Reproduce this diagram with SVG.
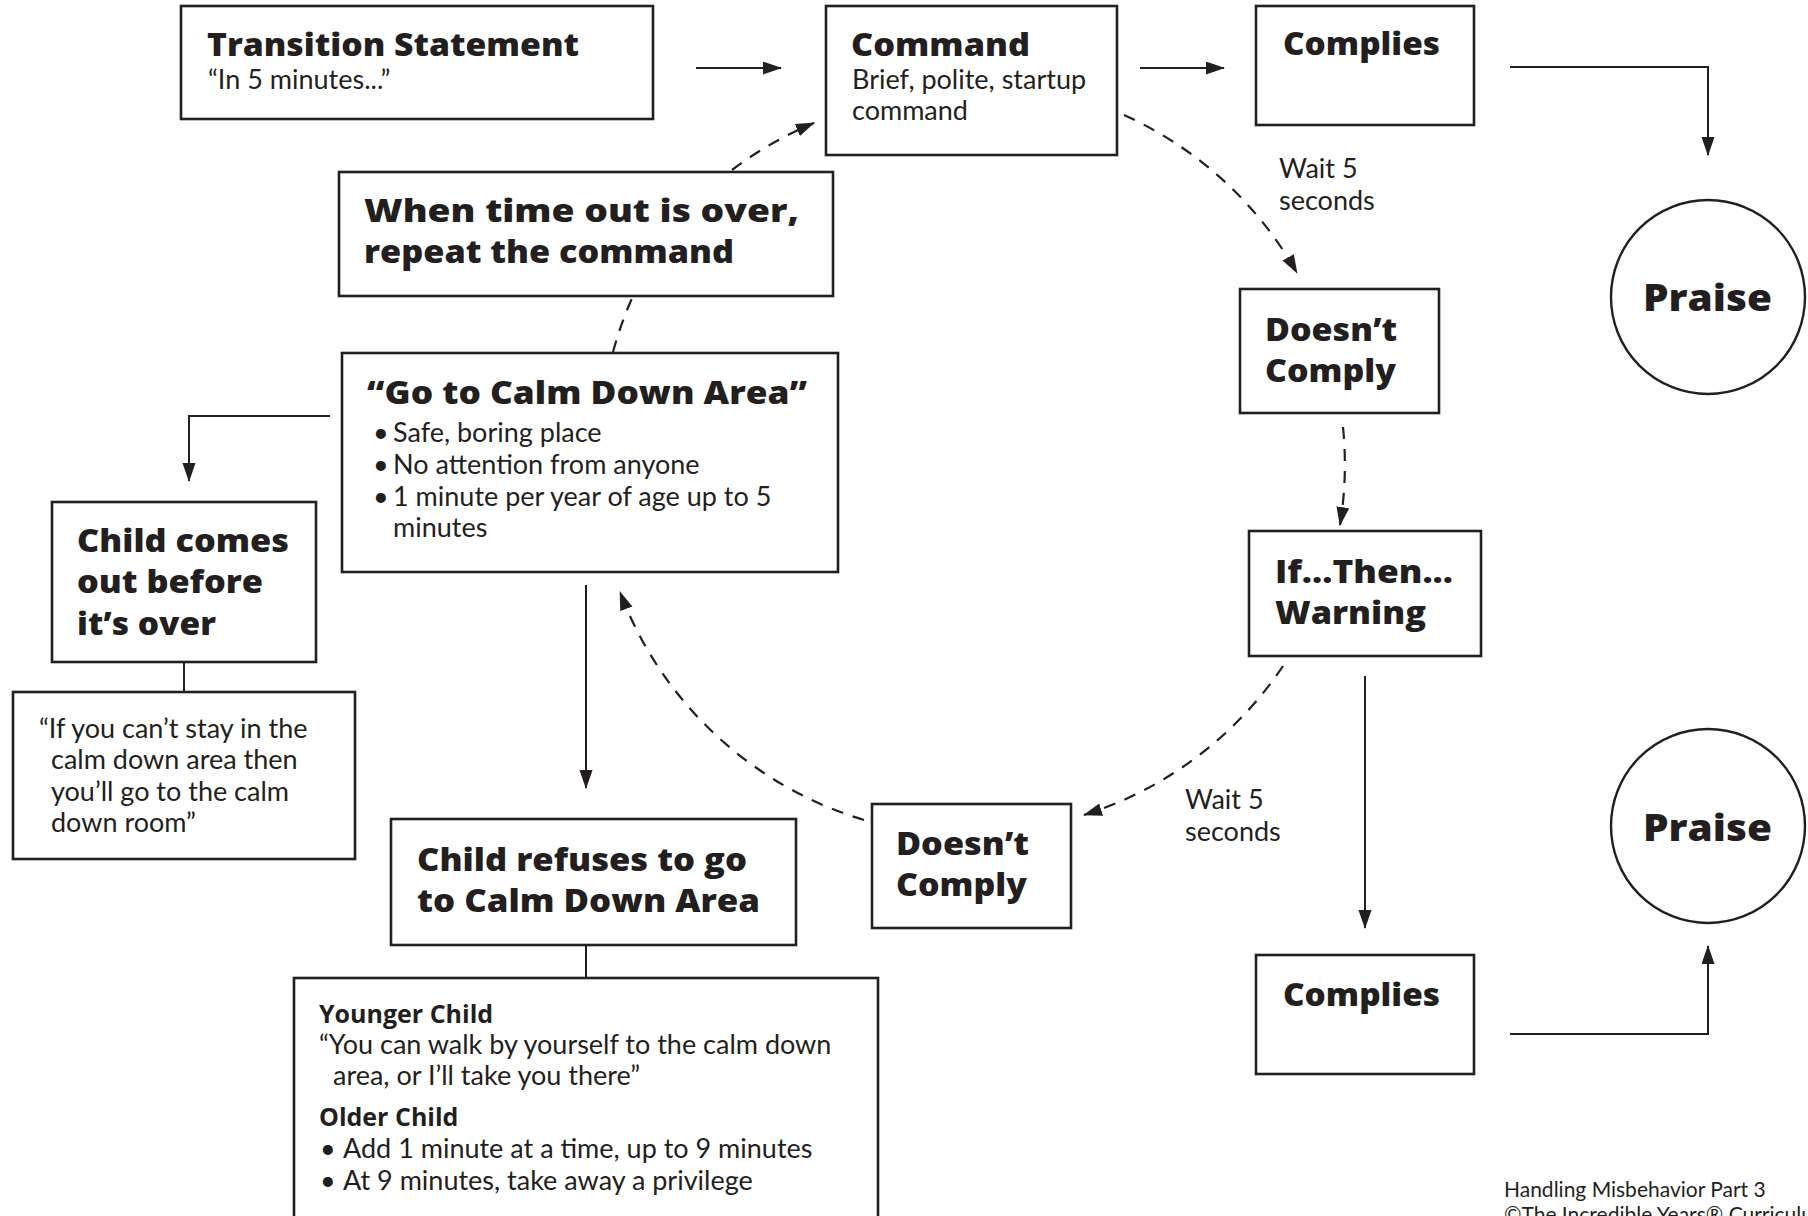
<svg xmlns="http://www.w3.org/2000/svg" width="1808" height="1216" viewBox="0 0 1808 1216">
<style>
.box{fill:#fff;stroke:#231f20;stroke-width:2.6}
.b{font-family:"Open Sans",Lato,"Liberation Sans",sans-serif;font-weight:800;font-size:32px;fill:#231f20}
.r{font-family:Lato,"Open Sans","Liberation Sans",sans-serif;font-weight:400;font-size:27px;fill:#231f20}
.sb{font-family:"Open Sans",Lato,"Liberation Sans",sans-serif;font-weight:700;font-size:25px;fill:#231f20}
.c{fill:none;stroke:#231f20;stroke-width:2}
.d{stroke-width:2.2;stroke-dasharray:12 10}
</style>
<defs>
<marker id="ah" markerUnits="userSpaceOnUse" markerWidth="22" markerHeight="14" refX="18" refY="6.5" orient="auto">
<path d="M0,0 L19,6.5 L0,13 z" fill="#231f20"/>
</marker>
</defs>

<g id="connectors">
<path class="c" d="M696 68 H781" marker-end="url(#ah)"/>
<path class="c" d="M1140 68 H1224" marker-end="url(#ah)"/>
<path class="c" d="M1510 67 H1708 V155" marker-end="url(#ah)"/>
<path class="c" d="M1365 676 V928" marker-end="url(#ah)"/>
<path class="c" d="M1510 1034 H1708 V946" marker-end="url(#ah)"/>
<path class="c" d="M330 416 H189 V481" marker-end="url(#ah)"/>
<path class="c" d="M184 662 V692"/>
<path class="c" d="M586 585 V788" marker-end="url(#ah)"/>
<path class="c" d="M586 945 V978"/>
<path class="c d" d="M1124 115 A376 376 0 0 1 1297 273" marker-end="url(#ah)"/>
<path class="c d" d="M1343 427 A376 376 0 0 1 1340 525" marker-end="url(#ah)"/>
<path class="c d" d="M1283 666 A376 376 0 0 1 1084 815" marker-end="url(#ah)"/>
<path class="c d" d="M864 820 A376 376 0 0 1 620 592" marker-end="url(#ah)"/>
<path class="c d" d="M613 352 A376 376 0 0 1 633 296"/>
<path class="c d" d="M732 170 A376 376 0 0 1 814 123" marker-end="url(#ah)"/>
<text class="r" x="1279" y="178">Wait 5</text>
<text class="r" x="1279" y="210">seconds</text>
<text class="r" x="1185" y="809">Wait 5</text>
<text class="r" x="1185" y="841">seconds</text>
</g>

<g id="transition">
<rect class="box" x="181" y="6" width="472" height="113"/>
<text class="b" x="207" y="56" textLength="372" lengthAdjust="spacingAndGlyphs">Transition Statement</text>
<text class="r" x="208" y="89">“In 5 minutes...”</text>
</g>

<g id="command">
<rect class="box" x="826" y="6" width="291" height="149"/>
<text class="b" x="851" y="56" textLength="179" lengthAdjust="spacingAndGlyphs">Command</text>
<text class="r" x="852" y="89">Brief, polite, startup</text>
<text class="r" x="852" y="120">command</text>
</g>

<g id="complies-top">
<rect class="box" x="1256" y="6" width="218" height="119"/>
<text class="b" x="1283" y="55" textLength="157" lengthAdjust="spacingAndGlyphs">Complies</text>
</g>

<g id="praise-top">
<circle cx="1708" cy="297" r="97" fill="#fff" stroke="#231f20" stroke-width="2.4"/>
<text class="b" x="1643" y="311" style="font-size:37px" textLength="129" lengthAdjust="spacingAndGlyphs">Praise</text>
</g>

<g id="doesnt-comply-top">
<rect class="box" x="1240" y="289" width="199" height="124"/>
<text class="b" x="1265" y="341" textLength="132" lengthAdjust="spacingAndGlyphs">Doesn’t</text>
<text class="b" x="1265" y="382" textLength="131" lengthAdjust="spacingAndGlyphs">Comply</text>
</g>

<g id="if-then-warning">
<rect class="box" x="1249" y="531" width="232" height="125"/>
<text class="b" x="1275" y="583" textLength="178" lengthAdjust="spacingAndGlyphs">If...Then...</text>
<text class="b" x="1275" y="624" textLength="151" lengthAdjust="spacingAndGlyphs">Warning</text>
</g>

<g id="complies-bottom">
<rect class="box" x="1256" y="955" width="218" height="119"/>
<text class="b" x="1283" y="1006" textLength="157" lengthAdjust="spacingAndGlyphs">Complies</text>
</g>

<g id="praise-bottom">
<circle cx="1708" cy="826" r="97" fill="#fff" stroke="#231f20" stroke-width="2.4"/>
<text class="b" x="1643" y="841" style="font-size:37px" textLength="129" lengthAdjust="spacingAndGlyphs">Praise</text>
</g>

<g id="doesnt-comply-bottom">
<rect class="box" x="872" y="804" width="199" height="124"/>
<text class="b" x="896" y="855" textLength="133" lengthAdjust="spacingAndGlyphs">Doesn’t</text>
<text class="b" x="896" y="896" textLength="131" lengthAdjust="spacingAndGlyphs">Comply</text>
</g>

<g id="when-time-out">
<rect class="box" x="339" y="172" width="494" height="124"/>
<text class="b" x="364" y="222" textLength="435" lengthAdjust="spacingAndGlyphs">When time out is over,</text>
<text class="b" x="364" y="263" textLength="370" lengthAdjust="spacingAndGlyphs">repeat the command</text>
</g>

<g id="go-to-calm-down">
<rect class="box" x="342" y="353" width="496" height="219"/>
<text class="b" x="367" y="404" textLength="440" lengthAdjust="spacingAndGlyphs">“Go to Calm Down Area”</text>
<text class="r" x="373" y="442">•</text>
<text class="r" x="393" y="442">Safe, boring place</text>
<text class="r" x="373" y="474">•</text>
<text class="r" x="393" y="474">No attention from anyone</text>
<text class="r" x="373" y="506">•</text>
<text class="r" x="393" y="506">1 minute per year of age up to 5</text>
<text class="r" x="393" y="537">minutes</text>
</g>

<g id="child-comes-out">
<rect class="box" x="52" y="502" width="264" height="160"/>
<text class="b" x="77" y="552" textLength="212" lengthAdjust="spacingAndGlyphs">Child comes</text>
<text class="b" x="77" y="593" textLength="186" lengthAdjust="spacingAndGlyphs">out before</text>
<text class="b" x="77" y="635" textLength="139" lengthAdjust="spacingAndGlyphs">it’s over</text>
</g>

<g id="stay-quote">
<rect class="box" x="13" y="692" width="342" height="167"/>
<text class="r" x="39" y="738">“If you can’t stay in the</text>
<text class="r" x="51" y="769">calm down area then</text>
<text class="r" x="51" y="801">you’ll go to the calm</text>
<text class="r" x="51" y="832">down room”</text>
</g>

<g id="child-refuses">
<rect class="box" x="391" y="819" width="405" height="126"/>
<text class="b" x="417" y="871" textLength="330" lengthAdjust="spacingAndGlyphs">Child refuses to go</text>
<text class="b" x="417" y="912" textLength="343" lengthAdjust="spacingAndGlyphs">to Calm Down Area</text>
</g>

<g id="age-options">
<rect class="box" x="294" y="978" width="584" height="250"/>
<text class="sb" x="319" y="1023">Younger Child</text>
<text class="r" x="319" y="1054">“You can walk by yourself to the calm down</text>
<text class="r" x="333" y="1085">area, or I’ll take you there”</text>
<text class="sb" x="319" y="1126">Older Child</text>
<text class="r" x="320" y="1158">•</text>
<text class="r" x="343" y="1158">Add 1 minute at a time, up to 9 minutes</text>
<text class="r" x="320" y="1190">•</text>
<text class="r" x="343" y="1190">At 9 minutes, take away a privilege</text>
</g>

<g id="footer">
<text class="r" x="1504" y="1197" style="font-size:21px">Handling Misbehavior Part 3</text>
<text class="r" x="1504" y="1222" style="font-size:21px">©The Incredible Years® Curriculum</text>
</g>
</svg>
